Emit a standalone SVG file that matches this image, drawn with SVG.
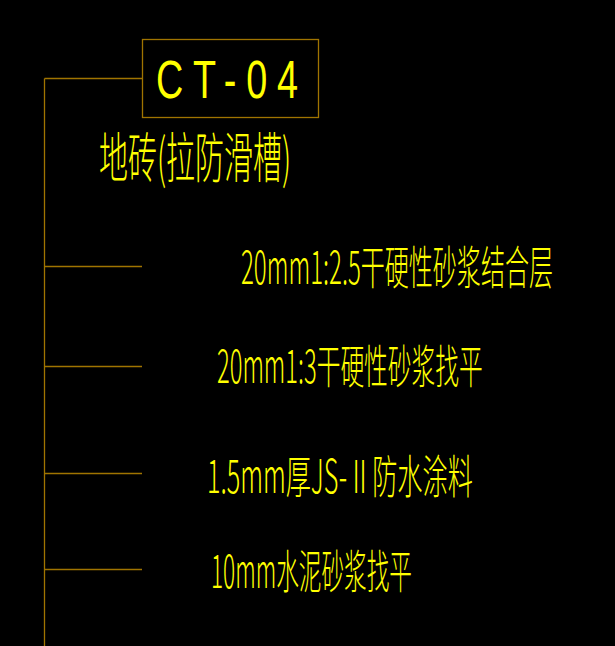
<svg xmlns="http://www.w3.org/2000/svg" width="615" height="646" viewBox="0 0 615 646">
<style>
.ln{stroke:#A07400;stroke-width:1.3;fill:none}
.t{fill:#FFFF00;font-family:"Liberation Sans","Noto Sans CJK SC",sans-serif;font-weight:normal}
.c{font-family:"Noto Sans CJK SC","Liberation Sans",sans-serif;font-weight:300}
</style>
<rect width="615" height="646" fill="#000"/>
<g id="connectors">
<path class="ln" d="M44.5 78.5H142.5M44.5 78.5V646M44.5 266.5H142M44.5 366.5H142M44.5 473.5H142M44.5 569.5H142"/>
</g>
<g id="tag">
<rect class="ln" x="142.5" y="39.5" width="176" height="78"/>
<text class="t" transform="translate(156,98) scale(0.7,1)" font-size="54" textLength="203" lengthAdjust="spacing" style="font-weight:300">CT-04</text>
</g>
<g id="title">
<text class="t c" transform="translate(99,178) scale(0.6,1)" font-size="54" textLength="320" lengthAdjust="spacingAndGlyphs">地砖(拉防滑槽)</text>
</g>
<g id="layer1">
<text class="t c" transform="translate(241,284) scale(0.6,1)" font-size="46" textLength="520" lengthAdjust="spacingAndGlyphs">20mm1:2.5干硬性砂浆结合层</text>
</g>
<g id="layer2">
<text class="t c" transform="translate(217,383) scale(0.6,1)" font-size="46" textLength="443" lengthAdjust="spacingAndGlyphs">20mm1:3干硬性砂浆找平</text>
</g>
<g id="layer3">
<text class="t c" transform="translate(207,493) scale(0.6,1)" font-size="46" textLength="443" lengthAdjust="spacingAndGlyphs">1.5mm厚JS-Ⅱ防水涂料</text>
</g>
<g id="layer4">
<text class="t c" transform="translate(211,588) scale(0.6,1)" font-size="46" textLength="335" lengthAdjust="spacingAndGlyphs">10mm水泥砂浆找平</text>
</g>
</svg>
